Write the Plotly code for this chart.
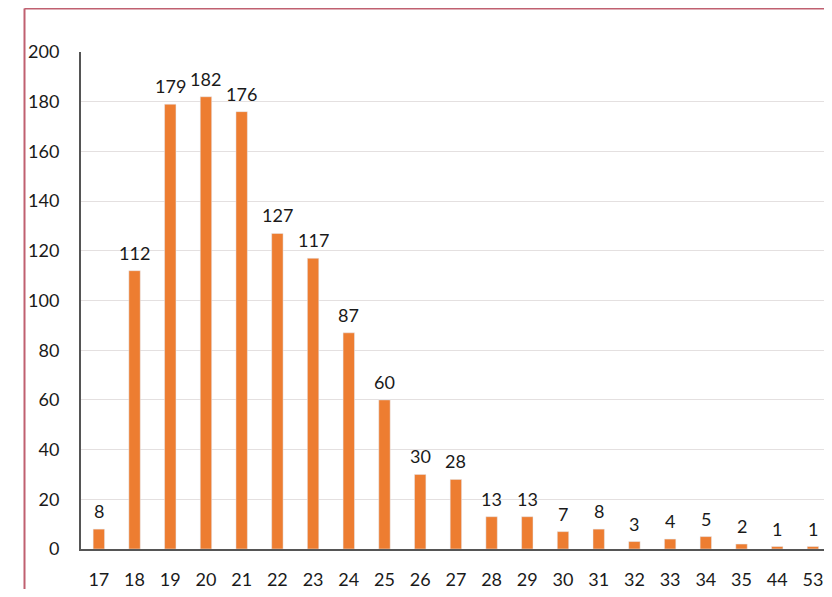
import plotly.graph_objects as go

ages = ["17","18","19","20","21","22","23","24","25","26","27","28","29","30","31","32","33","34","35","44","53"]
counts = [8,112,179,182,176,127,117,87,60,30,28,13,13,7,8,3,4,5,2,1,1]
y_ticks = list(range(0, 201, 20))

# page has an 8px body margin: figure covers page x 8..824, y 8..589
W, H = 816, 581
L, R, T, B = 73, 0, 44, 40
pw = W - L - R
ph = H - T - B

fig = go.Figure(go.Bar(
    x=ages, y=counts, marker_color="#ED7D31", width=0.32,
))

for i, c in enumerate(counts):
    fig.add_annotation(x=i, y=c, text=str(c), showarrow=False, yanchor="bottom",
                       yshift=5, font=dict(size=18, color="#1a1a1a", family="Lato"))

bx = (16.5 - L) / pw
by = 1 + (T - 0.5) / ph
fig.update_layout(
    width=W, height=H, margin=dict(l=L, r=R, t=T, b=B, autoexpand=False),
    paper_bgcolor="white", plot_bgcolor="white", showlegend=False,
    font=dict(family="Lato", size=18, color="#1a1a1a"),
    xaxis=dict(type="category", range=[-0.5, 20.31], showgrid=False,
               showline=True, linecolor="#555555", linewidth=2,
               ticks="", ticklabelstandoff=13, tickfont=dict(size=18), automargin=False),
    yaxis=dict(range=[0, 200], tickvals=y_ticks, showgrid=True, gridcolor="#e4e0e0",
               gridwidth=1, showline=True, linecolor="#555555", linewidth=2,
               ticks="", ticklabelstandoff=16, zeroline=False, tickfont=dict(size=18),
               automargin=False),
    shapes=[
        dict(type="line", xref="paper", yref="paper", x0=bx, x1=1.1, y0=by, y1=by,
             line=dict(color="#C06070", width=2)),
        dict(type="line", xref="paper", yref="paper", x0=bx, x1=bx, y0=-0.2, y1=by,
             line=dict(color="#C06070", width=2)),
    ],
)

fig.write_html("out.html")
